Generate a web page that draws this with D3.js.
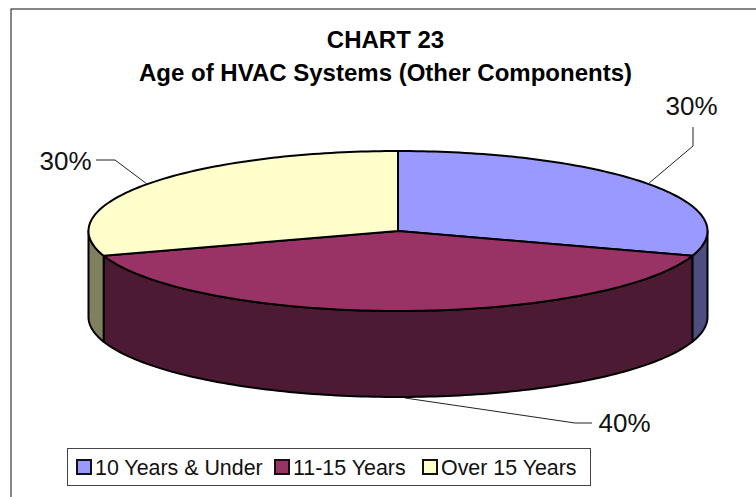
<!DOCTYPE html>
<html>
<head>
<meta charset="utf-8">
<script src="https://cdn.jsdelivr.net/npm/d3@7/dist/d3.min.js"></script>
<style>
  html, body { margin: 0; padding: 0; background: #fff; overflow: hidden; }
  svg { display: block; font-family: "Liberation Sans", Arial, sans-serif; }
</style>
</head>
<body>
<svg id="chart" width="756" height="497"></svg>
<script>
const titleLines = ["CHART 23", "Age of HVAC Systems (Other Components)"];
const categories = ["10 Years & Under", "11-15 Years", "Over 15 Years"];
const shares = [30, 40, 30];
const topColors = ["#9999ff", "#993366", "#ffffcc"];
const sideColors = ["#4d4d80", "#4d1a33", "#80805f"];

const svg = d3.select("#chart");

// chart frame, runs off the right and bottom of the picture
svg.append("rect")
  .attr("x", 11).attr("y", 9).attr("width", 800).attr("height", 540)
  .attr("fill", "#fff").attr("stroke", "#111").attr("stroke-width", 1);

// title
svg.selectAll("text.title")
  .data(titleLines)
  .enter()
  .append("text")
  .attr("class", "title")
  .attr("x", 385.5)
  .attr("y", (d, i) => 48 + i * 33)
  .attr("text-anchor", "middle")
  .style("font-size", "24px")
  .style("font-weight", "700")
  .style("fill", "#000")
  .text(d => d);

// 3D pie: unit circle squashed by the two scales, wall drops by depth
const x = d3.scaleLinear().domain([-1, 1]).range([88.5, 707.5]);
const y = d3.scaleLinear().domain([-1, 1]).range([151, 311]);
const depth = 86;

const pie = d3.pie().sort(null).value(d => d);
const arcs = pie(shares);
const line = d3.line();

function rimPoints(a0, a1, drop) {
  const n = Math.max(2, Math.ceil((a1 - a0) / 0.02));
  return d3.range(n + 1).map(i => {
    const a = a0 + (a1 - a0) * i / n;
    return [x(Math.sin(a)), y(-Math.cos(a)) + drop];
  });
}

// visible walls, only the front half of the rim (90 to 270 deg)
const wallFrom = Math.PI / 2, wallTo = Math.PI * 3 / 2;
arcs.forEach((d, i) => {
  const a0 = Math.max(d.startAngle, wallFrom);
  const a1 = Math.min(d.endAngle, wallTo);
  if (a1 <= a0) return;
  const pts = rimPoints(a0, a1, 0).concat(rimPoints(a0, a1, depth).reverse());
  svg.append("path")
    .attr("d", line(pts) + "Z")
    .attr("fill", sideColors[i])
    .attr("stroke", "#000")
    .attr("stroke-width", 2)
    .attr("stroke-linejoin", "round");
});

// top faces
arcs.forEach((d, i) => {
  const pts = [[x(0), y(0)]].concat(rimPoints(d.startAngle, d.endAngle, 0));
  svg.append("path")
    .attr("d", line(pts) + "Z")
    .attr("fill", topColors[i])
    .attr("stroke", "#000")
    .attr("stroke-width", 2)
    .attr("stroke-linejoin", "round");
});

// data labels, same order as the slices
const labelX = [691.5, 624.5, 65.5];
const labelY = [115, 432, 170];
const leaders = [
  [[693, 127], [693, 146], [648, 184]],
  [[592, 423], [575, 423], [405, 398]],
  [[96, 160], [115, 160], [147, 184]]
];
arcs.forEach((d, i) => {
  svg.append("path")
    .attr("d", line(leaders[i]))
    .attr("fill", "none")
    .attr("stroke", "#222")
    .attr("stroke-width", 1);
  svg.append("text")
    .attr("x", labelX[i])
    .attr("y", labelY[i])
    .attr("text-anchor", "middle")
    .style("font-size", "26px")
    .style("fill", "#111")
    .text(d.value + "%");
});

// legend
svg.append("rect")
  .attr("x", 67.5).attr("y", 448.5).attr("width", 523).attr("height", 37)
  .attr("fill", "#fff").attr("stroke", "#444").attr("stroke-width", 1);

const swatchX = [77, 275, 423];
categories.forEach((c, i) => {
  svg.append("rect")
    .attr("x", swatchX[i]).attr("y", 460).attr("width", 14).attr("height", 14)
    .attr("fill", topColors[i]).attr("stroke", "#111").attr("stroke-width", 2);
  svg.append("text")
    .attr("x", swatchX[i] + 18)
    .attr("y", 475)
    .style("font-size", "21.4px")
    .style("fill", "#111")
    .text(c);
});
</script>
</body>
</html>
